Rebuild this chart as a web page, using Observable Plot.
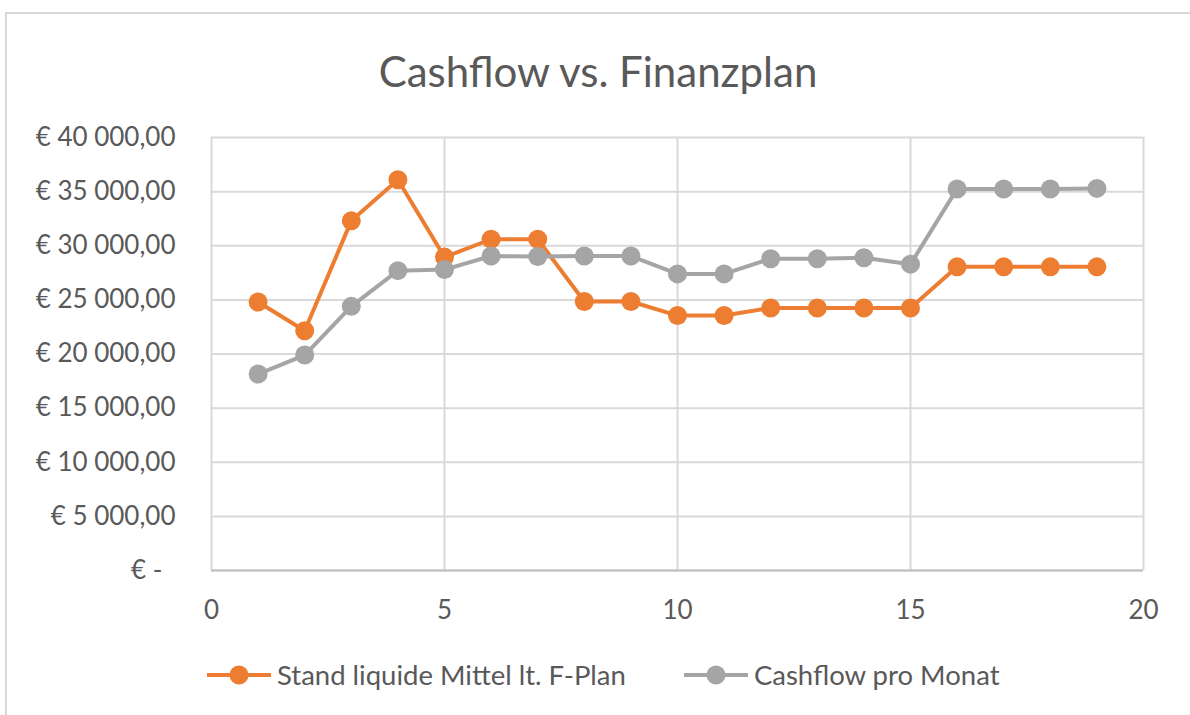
<!DOCTYPE html>
<html>
<head>
<meta charset="utf-8">
<script src="https://cdn.jsdelivr.net/npm/d3@7"></script>
<script src="https://cdn.jsdelivr.net/npm/@observablehq/plot@0.6"></script>
<style>
  html, body { margin: 0; padding: 0; background: #fff; }
  body { width: 1190px; height: 715px; position: relative; overflow: hidden; font-family: Lato, "Open Sans", sans-serif; color: #595959; }
  #frame { position: absolute; left: 5px; top: 12px; width: 1200px; height: 720px; border: 2px solid #d9d9d9; box-sizing: border-box; }
  #title { position: absolute; left: 0; width: 1196px; top: 46px; text-align: center; font-size: 42px; line-height: 50px; color: #595959; }
  #chart { position: absolute; left: 0; top: 110px; }
  #legend { position: absolute; top: 658px; left: 207px; display: flex; align-items: center; font-size: 27.5px; color: #595959; }
  .item { display: flex; align-items: center; margin-right: 58px; }
  .item svg { margin-right: 6px; }
</style>
</head>
<body>
<div id="frame"></div>
<div id="title">Cashflow vs. Finanzplan</div>
<div id="chart"></div>
<div id="legend"></div>
<script>
const months = [1,2,3,4,5,6,7,8,9,10,11,12,13,14,15,16,17,18,19];
const planValues = [24800, 22150, 32300, 36100, 28950, 30600, 30600, 24850, 24850, 23550, 23550, 24250, 24250, 24250, 24250, 28050, 28050, 28050, 28050];
const cashValues = [18150, 19900, 24400, 27700, 27800, 29050, 29000, 29050, 29050, 27400, 27400, 28800, 28800, 28900, 28300, 35250, 35250, 35250, 35300];
const seriesNames = ["Stand liquide Mittel lt. F-Plan", "Cashflow pro Monat"];
const seriesColors = ["#ED7D31", "#A5A5A5"];
const xTicks = [0, 5, 10, 15, 20];
const yTicks = [0, 5000, 10000, 15000, 20000, 25000, 30000, 35000, 40000];

const rows = [];
months.forEach((m, i) => {
  rows.push({month: m, value: planValues[i], series: seriesNames[0]});
});
months.forEach((m, i) => {
  rows.push({month: m, value: cashValues[i], series: seriesNames[1]});
});

const fmt = d => {
  if (d === 0) return "€ -\u2002";
  return "€ " + d3.format(",.2f")(d).replace(/,/g, " ").replace(".", ",");
};

const chart = Plot.plot({
  width: 1190,
  height: 530,
  marginTop: 27,
  marginBottom: 70,
  marginLeft: 211,
  marginRight: 47,
  style: {fontFamily: "Lato, 'Open Sans', sans-serif", fontSize: "26px", color: "#595959", background: "transparent"},
  x: {domain: [0, 20], ticks: xTicks, label: null},
  y: {domain: [0, 40000], ticks: yTicks, label: null},
  color: {domain: seriesNames, range: seriesColors},
  marks: [
    Plot.gridX(xTicks, {stroke: "#d9d9d9", strokeOpacity: 1, strokeWidth: 2}),
    Plot.gridY(yTicks, {stroke: "#d9d9d9", strokeOpacity: 1, strokeWidth: 2}),
    Plot.ruleY([0], {stroke: "#bfbfbf", strokeWidth: 2}),
    Plot.axisX(xTicks, {tickSize: 0, tickPadding: 30, fill: "#595959", fontSize: 26, label: null}),
    Plot.axisY(yTicks, {tickSize: 0, tickPadding: 36, tickFormat: fmt, fill: "#595959", fontSize: 26, label: null}),
    Plot.line(rows, {x: "month", y: "value", z: "series", stroke: "series", strokeWidth: 4}),
    Plot.dot(rows, {x: "month", y: "value", fill: "series", r: 9.5})
  ]
});
document.getElementById("chart").appendChild(chart);

const legend = document.getElementById("legend");
seriesNames.forEach((name, i) => {
  const item = document.createElement("div");
  item.className = "item";
  const ns = "http://www.w3.org/2000/svg";
  const sw = document.createElementNS(ns, "svg");
  sw.setAttribute("width", 64);
  sw.setAttribute("height", 24);
  const ln = document.createElementNS(ns, "line");
  ln.setAttribute("x1", 0); ln.setAttribute("x2", 64);
  ln.setAttribute("y1", 12); ln.setAttribute("y2", 12);
  ln.setAttribute("stroke", seriesColors[i]); ln.setAttribute("stroke-width", 4);
  const c = document.createElementNS(ns, "circle");
  c.setAttribute("cx", 32); c.setAttribute("cy", 12); c.setAttribute("r", 9.5);
  c.setAttribute("fill", seriesColors[i]);
  sw.appendChild(ln); sw.appendChild(c);
  const t = document.createElement("span");
  t.textContent = name;
  item.appendChild(sw); item.appendChild(t);
  legend.appendChild(item);
});
</script>
</body>
</html>
